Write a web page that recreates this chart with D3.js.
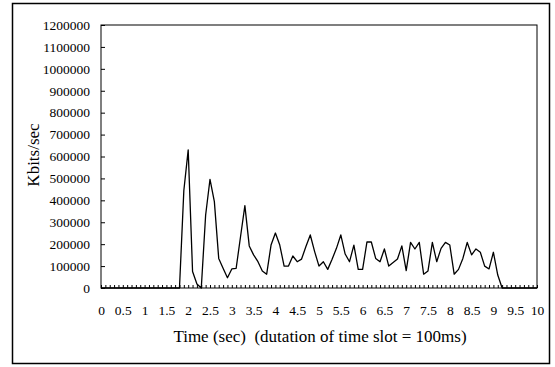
<!DOCTYPE html>
<html>
<head>
<meta charset="utf-8">
<script src="https://cdn.jsdelivr.net/npm/d3@7"></script>
<style>
  body { margin: 0; background: #fff; }
  svg text { font-family: "Liberation Serif", "Times New Roman", serif !important; fill: #000; }
</style>
</head>
<body>
<div id="container"></div>
<script>
/* DATA */
const times = [
  0, 0.1, 0.2, 0.3, 0.4, 0.5, 0.6, 0.7, 0.8, 0.9,
  1, 1.1, 1.2, 1.3, 1.4, 1.5, 1.6, 1.7, 1.8, 1.9,
  2, 2.1, 2.2, 2.3, 2.4, 2.5, 2.6, 2.7, 2.8, 2.9,
  3, 3.1, 3.2, 3.3, 3.4, 3.5, 3.6, 3.7, 3.8, 3.9,
  4, 4.1, 4.2, 4.3, 4.4, 4.5, 4.6, 4.7, 4.8, 4.9,
  5, 5.1, 5.2, 5.3, 5.4, 5.5, 5.6, 5.7, 5.8, 5.9,
  6, 6.1, 6.2, 6.3, 6.4, 6.5, 6.6, 6.7, 6.8, 6.9,
  7, 7.1, 7.2, 7.3, 7.4, 7.5, 7.6, 7.7, 7.8, 7.9,
  8, 8.1, 8.2, 8.3, 8.4, 8.5, 8.6, 8.7, 8.8, 8.9,
  9, 9.1, 9.2, 9.3, 9.4, 9.5, 9.6, 9.7, 9.8, 9.9,
  10
];

const kbits = [
  0, 0, 0, 0, 0, 0, 0, 0, 0, 0,
  0, 0, 0, 0, 0, 0, 0, 0, 0, 445000,
  630000, 75000, 18000, 0, 333000, 496000, 394000, 135000, 90000, 47000,
  87000, 90000, 234000, 376000, 192000, 151000, 120000, 78000, 63000, 196000,
  251000, 196000, 100000, 100000, 146000, 120000, 132000, 189000, 242000, 166000,
  100000, 120000, 85000, 131000, 181000, 242000, 155000, 120000, 196000, 85000,
  85000, 210000, 210000, 135000, 120000, 178000, 100000, 116000, 132000, 192000,
  79000, 208000, 178000, 208000, 63000, 78000, 208000, 120000, 181000, 208000,
  196000, 63000, 85000, 135000, 208000, 151000, 178000, 163000, 100000, 87000,
  163000, 59000, 0, 0, 0, 0, 0, 0, 0, 0,
  0
];

const xLabels = [0, 0.5, 1, 1.5, 2, 2.5, 3, 3.5, 4, 4.5, 5, 5.5, 6, 6.5, 7, 7.5, 8, 8.5, 9, 9.5, 10];
const yLabels = [0, 100000, 200000, 300000, 400000, 500000, 600000, 700000, 800000, 900000, 1000000, 1100000, 1200000];

const width = 555,
      height = 367;

const plot = { left: 101, right: 537, top: 25, bottom: 288 };

const svg = d3.select('#container')
              .append("svg")
              .attr("width", width)
              .attr("height", height);

// outer frame
svg.append("rect")
   .attr("x", 12.5).attr("y", 3.5)
   .attr("width", 537).attr("height", 360)
   .attr("fill", "none")
   .attr("stroke", "#000")
   .attr("stroke-width", 1.5);

const xScale = d3.scaleLinear()
                 .domain([0, 10])
                 .range([plot.left, plot.right]);

const yScale = d3.scaleLinear()
                 .domain([0, 1200000])
                 .range([plot.bottom, plot.top]);

// plot area frame
svg.append("rect")
   .attr("x", plot.left).attr("y", plot.top)
   .attr("width", plot.right - plot.left)
   .attr("height", plot.bottom - plot.top)
   .attr("fill", "none")
   .attr("stroke", "#000")
   .attr("stroke-width", 1);

// minor x ticks (one per time slot), pointing inward
svg.append("g")
   .attr("transform", "translate(0," + plot.bottom + ")")
   .call(d3.axisBottom(xScale).tickValues(times).tickSizeInner(-3).tickSizeOuter(0).tickFormat(""))
   .call(g => g.select(".domain").remove());

// x tick labels
svg.append("g")
   .attr("transform", "translate(0," + plot.bottom + ")")
   .call(d3.axisBottom(xScale).tickValues(xLabels).tickSize(0).tickPadding(17).tickFormat(d => String(d)))
   .attr("font-family", "Liberation Serif")
   .attr("font-size", 13.5)
   .call(g => g.select(".domain").remove());

// y axis
svg.append("g")
   .attr("transform", "translate(" + plot.left + ",0)")
   .call(d3.axisLeft(yScale).tickValues(yLabels).tickSizeInner(-4).tickSizeOuter(0).tickPadding(11).tickFormat(d => String(d)))
   .attr("font-family", "Liberation Serif")
   .attr("font-size", 13.5)
   .call(g => g.select(".domain").remove());

svg.selectAll(".tick line").attr("stroke", "#000");

// the series
const line = d3.line()
               .x((d, i) => xScale(times[i]))
               .y(d => yScale(d));

svg.append("path")
   .datum(kbits)
   .attr("d", line)
   .attr("fill", "none")
   .attr("stroke", "#000")
   .attr("stroke-width", 1.3)
   .attr("stroke-linejoin", "round");

// axis titles
svg.append("text")
   .attr("transform", "translate(39,155) rotate(-90)")
   .attr("text-anchor", "middle")
   .style("font-size", "17px")
   .text("Kbits/sec");

svg.append("text")
   .attr("x", 320)
   .attr("y", 342)
   .attr("text-anchor", "middle")
   .style("font-size", "17px")
   .style("white-space", "pre")
   .text("Time (sec)  (dutation of time slot = 100ms)");
</script>
</body>
</html>
